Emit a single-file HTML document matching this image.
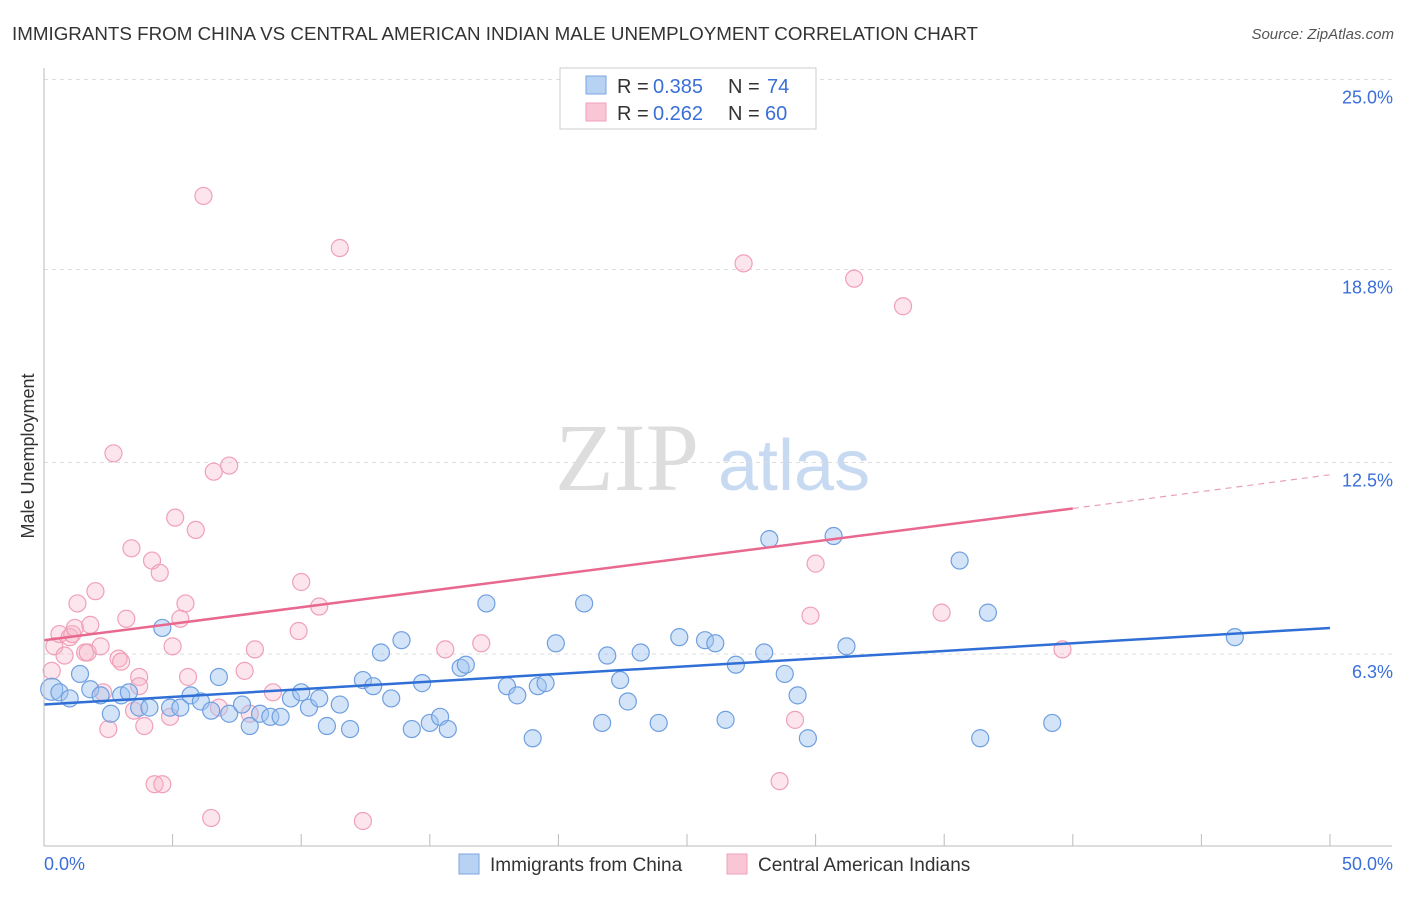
<!DOCTYPE html>
<html><head><meta charset="utf-8"><style>
body{margin:0;background:#fff;font-family:"Liberation Sans",sans-serif;}
</style></head><body>
<svg id="chart" width="1406" height="892" xmlns="http://www.w3.org/2000/svg" font-family="Liberation Sans, sans-serif">
<text x="12" y="40" font-size="18" fill="#333" textLength="966" lengthAdjust="spacingAndGlyphs">IMMIGRANTS FROM CHINA VS CENTRAL AMERICAN INDIAN MALE UNEMPLOYMENT CORRELATION CHART</text>
<text x="1394" y="39" font-size="15" fill="#555" font-style="italic" text-anchor="end">Source: ZipAtlas.com</text>
<text x="555" y="490" font-size="96" fill="#ddd" font-family="Liberation Serif, serif">ZIP</text>
<text x="718" y="490" font-size="72" fill="#c8daf2">atlas</text>
<text transform="translate(34,456) rotate(-90)" font-size="18" fill="#333" text-anchor="middle">Male Unemployment</text>
<g id="grid"></g><g id="pts"></g><g id="lines"></g>
<line x1="44" y1="68" x2="44" y2="846" stroke="#bbb"/>
<line x1="44" y1="846" x2="1392" y2="846" stroke="#bbb"/>
<g>
<rect x="560" y="68" width="256" height="61" fill="#fff" stroke="#ccc"/>
<rect x="586" y="76" width="20" height="18" fill="#b8d2f4" stroke="#7aa6e0"/>
<rect x="586" y="103" width="20" height="18" fill="#f9c6d6" stroke="#f0a0b8"/>
<text x="617" y="93" font-size="20" fill="#333">R = </text><text x="653" y="93" font-size="20" fill="#3a6fd8">0.385</text>
<text x="728" y="93" font-size="20" fill="#333">N = </text><text x="767" y="93" font-size="20" fill="#3a6fd8">74</text>
<text x="617" y="120" font-size="20" fill="#333">R = </text><text x="653" y="120" font-size="20" fill="#3a6fd8">0.262</text>
<text x="728" y="120" font-size="20" fill="#333">N = </text><text x="765" y="120" font-size="20" fill="#3a6fd8">60</text>
</g>
<g>
<rect x="459" y="854" width="20" height="20" fill="#b8d2f4" stroke="#7aa6e0"/>
<text x="490" y="871" font-size="19" fill="#333">Immigrants from China</text>
<rect x="727" y="854" width="20" height="20" fill="#f9c6d6" stroke="#f0a0b8"/>
<text x="758" y="871" font-size="19" fill="#333">Central American Indians</text>
</g>
<text x="44" y="870" font-size="18" fill="#3a6fd8">0.0%</text>
<text x="1393" y="870" font-size="18" fill="#3a6fd8" text-anchor="end">50.0%</text>
</svg>
<script>
const yTicks=[25.0,18.8,12.5,6.3];
const yTickLabels=["25.0%","18.8%","12.5%","6.3%"];
const chinaX=[0.3,0.6,1.0,1.4,1.8,2.2,2.6,3.0,3.3,3.7,4.1,4.6,4.9,5.3,5.7,6.1,6.5,6.8,7.2,7.7,8.0,8.4,8.8,9.2,9.6,10.0,10.3,10.7,11.0,11.5,11.9,12.4,12.8,13.1,13.5,13.9,14.3,14.7,15.0,15.4,15.7,16.2,16.4,17.2,18.0,18.4,19.0,19.2,19.5,19.9,21.0,21.7,21.9,22.4,22.7,23.2,23.9,24.7,25.7,26.1,26.5,26.9,28.0,28.2,28.8,29.3,29.7,30.7,31.2,35.6,36.4,36.7,39.2,46.3];
const chinaY=[5.1,5.0,4.8,5.6,5.1,4.9,4.3,4.9,5.0,4.5,4.5,7.1,4.5,4.5,4.9,4.7,4.4,5.5,4.3,4.6,3.9,4.3,4.2,4.2,4.8,5.0,4.5,4.8,3.9,4.6,3.8,5.4,5.2,6.3,4.8,6.7,3.8,5.3,4.0,4.2,3.8,5.8,5.9,7.9,5.2,4.9,3.5,5.2,5.3,6.6,7.9,4.0,6.2,5.4,4.7,6.3,4.0,6.8,6.7,6.6,4.1,5.9,6.3,10.0,5.6,4.9,3.5,10.1,6.5,9.3,3.5,7.6,4.0,6.8];
const caiX=[0.3,0.4,0.6,0.8,1.0,1.1,1.2,1.3,1.6,1.7,1.8,2.0,2.2,2.3,2.5,2.7,2.9,3.0,3.2,3.4,3.5,3.7,3.7,3.9,4.2,4.3,4.5,4.6,4.9,5.0,5.1,5.3,5.5,5.6,5.9,6.2,6.5,6.6,6.8,7.2,7.8,8.0,8.2,8.9,9.9,10.0,10.7,11.5,12.4,15.6,17.0,27.2,28.6,29.2,29.8,30.0,31.5,33.4,34.9,39.6];
const caiY=[5.7,6.5,6.9,6.2,6.8,6.9,7.1,7.9,6.3,6.3,7.2,8.3,6.5,5.0,3.8,12.8,6.1,6.0,7.4,9.7,4.4,5.5,5.2,3.9,9.3,2.0,8.9,2.0,4.2,6.5,10.7,7.4,7.9,5.5,10.3,21.2,0.9,12.2,4.5,12.4,5.7,4.3,6.4,5.0,7.0,8.6,7.8,19.5,0.8,6.4,6.6,19.0,2.1,4.1,7.5,9.2,18.5,17.6,7.6,6.4];
const blueTrend=[[0,4.6],[50,7.1]];
const pinkTrend=[[0,6.7],[40,11.0],[50,12.1]];
const NS="http://www.w3.org/2000/svg";
const X=v=>44+v/50*1286, Y=v=>845.5-v*30.64;
function mk(t,a,p){const e=document.createElementNS(NS,t);for(const k in a)e.setAttribute(k,a[k]);p.appendChild(e);return e;}
const grid=document.getElementById('grid');
yTicks.forEach((t,i)=>{
 const l=mk('line',{x1:44,x2:1392,y1:Y(t===6.3?6.25:t),y2:Y(t===6.3?6.25:t),stroke:'#ddd','stroke-dasharray':'4,4'},grid);
 
 
 const tx=mk('text',{x:1393,y:Y(t===6.3?6.25:t)+24,'font-size':18,fill:'#3a6fd8','text-anchor':'end'},grid);
 tx.textContent=yTickLabels[i];
 
 
});
for(let i=1;i<=10;i++){const l=mk('line',{x1:X(i*5),x2:X(i*5),y1:846,y2:834,stroke:'#bbb'},grid);
 
 }
const pts=document.getElementById('pts');
caiX.forEach((x,i)=>{const c=mk('circle',{cx:X(x),cy:Y(caiY[i]),r:8.5,fill:'rgba(247,180,200,0.35)',stroke:'#f0a0b8','stroke-width':1.2},pts);
 
 });
chinaX.forEach((x,i)=>{const c=mk('circle',{cx:X(x),cy:Y(chinaY[i]),r:i===0?11:8.5,fill:'rgba(160,196,240,0.45)',stroke:'#6f9fe0','stroke-width':1.2},pts);
 
 });
const lines=document.getElementById('lines');
let b=mk('line',{x1:X(blueTrend[0][0]),y1:Y(blueTrend[0][1]),x2:X(blueTrend[1][0]),y2:Y(blueTrend[1][1]),stroke:'#2f6fd6','stroke-width':2.5},lines);


let p=mk('line',{x1:X(pinkTrend[0][0]),y1:Y(pinkTrend[0][1]),x2:X(pinkTrend[1][0]),y2:Y(pinkTrend[1][1]),stroke:'#e8688f','stroke-width':2.5},lines);


let pd=mk('line',{x1:X(pinkTrend[1][0]),y1:Y(pinkTrend[1][1]),x2:X(pinkTrend[2][0]),y2:Y(pinkTrend[2][1]),stroke:'#e8a0b4','stroke-width':1.2,'stroke-dasharray':'6,5'},lines);


</script>
</body></html>
